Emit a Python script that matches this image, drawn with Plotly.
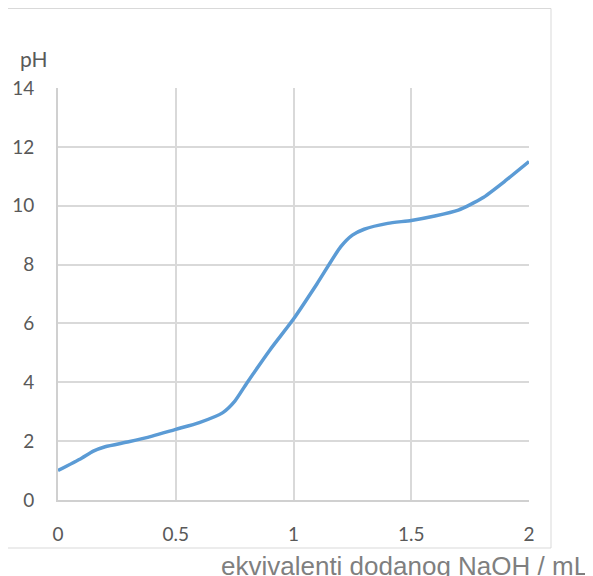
import plotly.graph_objects as go

# data
naoh_eq = [0, 0.1, 0.15, 0.2, 0.3, 0.4, 0.5, 0.6, 0.7, 0.75, 0.8, 0.9, 1.0,
           1.1, 1.2, 1.25, 1.3, 1.4, 1.5, 1.6, 1.7, 1.8, 1.9, 2.0]
ph_values = [1.0, 1.42, 1.66, 1.81, 1.98, 2.17, 2.40, 2.63, 2.97, 3.35, 3.95, 5.1, 6.15,
             7.35, 8.6, 9.0, 9.2, 9.4, 9.5, 9.65, 9.85, 10.25, 10.85, 11.5]
x_ticks = [0, 0.5, 1, 1.5, 2]
x_tick_labels = ["0", "0.5", "1", "1.5", "2"]
y_ticks = [0, 2, 4, 6, 8, 10, 12, 14]

OFF = 8  # default page body margin
W, H = 593 - OFF, 576 - OFF
L, T = 58 - OFF, 88 - OFF
pw, ph = 471, 412
R, B = W - L - pw, H - T - ph

def px_x(p):  # screen pixel -> paper x
    return (p - OFF - L) / pw

def px_y(p):  # screen pixel -> paper y
    return (T + ph - (p - OFF)) / ph

fig = go.Figure()
fig.add_trace(go.Scatter(
    x=naoh_eq, y=ph_values, mode="lines",
    line=dict(color="#5b9bd5", width=3.5, shape="spline", smoothing=0.6),
    hoverinfo="skip", showlegend=False))

tick_font = dict(family="Lato, Carlito, sans-serif", size=19, color="#595959")

fig.update_layout(
    width=W, height=H,
    margin=dict(l=L, r=R, t=T, b=B, autoexpand=False),
    paper_bgcolor="white", plot_bgcolor="white",
    xaxis=dict(range=[0, 2], tickvals=x_ticks, ticktext=x_tick_labels,
               showgrid=True, gridcolor="#d9d9d9", gridwidth=1.6,
               showline=True, linecolor="#d0d0d0", linewidth=1.6,
               zeroline=False, ticks="", tickfont=tick_font, automargin=False,
               ticklabelstandoff=16, fixedrange=True),
    yaxis=dict(range=[0, 14], tickvals=y_ticks,
               showgrid=True, gridcolor="#d9d9d9", gridwidth=1.6,
               showline=True, linecolor="#d0d0d0", linewidth=1.6,
               zeroline=False, ticks="", tickfont=tick_font, automargin=False,
               ticklabelstandoff=18, fixedrange=True),
    shapes=[dict(type="rect", xref="paper", yref="paper",
                 x0=px_x(7.5), x1=px_x(551), y0=px_y(548), y1=px_y(8.5),
                 line=dict(color="#d9d9d9", width=1), fillcolor="rgba(0,0,0,0)",
                 layer="below")],
    annotations=[
        dict(text="pH", xref="paper", yref="paper", x=px_x(34), y=px_y(58),
             xanchor="center", yanchor="middle", showarrow=False,
             font=dict(family="Lato, Carlito, sans-serif", size=21, color="#595959")),
        dict(text="ekvivalenti dodanog NaOH / mL", xref="paper", yref="paper",
             x=px_x(590), y=px_y(566), xanchor="right", yanchor="middle",
             showarrow=False,
             font=dict(family="Liberation Sans, Arial, sans-serif", size=26,
                       color="#7f7f7f")),
    ],
)

fig.write_html("out.html")
